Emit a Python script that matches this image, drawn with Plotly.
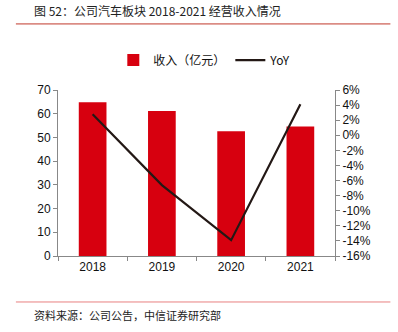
import plotly.graph_objects as go

years = ["2018", "2019", "2020", "2021"]
revenue = [64.8, 61.1, 52.6, 54.6]
yoy = [2.8, -6.6, -13.9, 4.1]
left_ticks = [0, 10, 20, 30, 40, 50, 60, 70]
right_ticks = [6, 4, 2, 0, -2, -4, -6, -8, -10, -12, -14, -16]
right_labels = [f"{v}%" for v in right_ticks]

FONT = "Liberation Sans, Arial, Noto Sans CJK SC, sans-serif"
CJK = "Noto Sans CJK SC, sans-serif"

fig = go.Figure()
fig.add_trace(go.Bar(x=years, y=revenue, name="收入（亿元）", marker_color="#d7000f",
                     marker_line_width=0, width=0.4))
fig.add_trace(go.Scatter(x=years, y=yoy, name="YoY", yaxis="y2", mode="lines",
                         line=dict(color="#231815", width=2.2)))

fig.update_layout(
    width=398, height=332,
    margin=dict(l=58, r=63, t=90, b=76),
    paper_bgcolor="white", plot_bgcolor="white",
    font=dict(family=FONT, size=12, color="#111"),
    showlegend=True,
    legend=dict(orientation="h", x=0.53, xanchor="center", y=1.18, yanchor="middle",
                font=dict(family=CJK, size=12), itemwidth=30, tracegroupgap=0),
    xaxis=dict(showline=True, linecolor="#888", linewidth=1, ticks="outside",
               tickson="boundaries", ticklen=4, tickcolor="#888",
               tickfont=dict(size=12), showgrid=False),
    yaxis=dict(range=[0, 70], tickvals=left_ticks, showline=True, linecolor="#888",
               linewidth=1, ticks="outside", ticklen=4, tickcolor="#888",
               showgrid=False, zeroline=False, tickfont=dict(size=12)),
    yaxis2=dict(range=[-16, 6], overlaying="y", side="right", tickvals=right_ticks,
                ticktext=right_labels, showline=True, linecolor="#888", linewidth=1,
                ticks="outside", ticklen=4, tickcolor="#888", showgrid=False,
                zeroline=False, tickfont=dict(size=12)),
    shapes=[
        dict(type="line", xref="paper", yref="paper", x0=-0.152, x1=1.2, y0=1.398, y1=1.398,
             line=dict(color="#c0392b", width=1)),
        dict(type="line", xref="paper", yref="paper", x0=-0.152, x1=1.2, y0=-0.277, y1=-0.277,
             line=dict(color="#e88080", width=1)),
    ],
    annotations=[
        dict(text="图 52：公司汽车板块 2018-2021 经营收入情况", xref="paper", yref="paper",
             x=-0.094, y=1.48, xanchor="left", yanchor="middle", showarrow=False,
             font=dict(family=CJK, size=12, color="#222")),
        dict(text="资料来源：公司公告，中信证券研究部", xref="paper", yref="paper",
             x=-0.094, y=-0.355, xanchor="left", yanchor="middle", showarrow=False,
             font=dict(family=CJK, size=11, color="#222")),
    ],
)

fig.write_html("out.html")
